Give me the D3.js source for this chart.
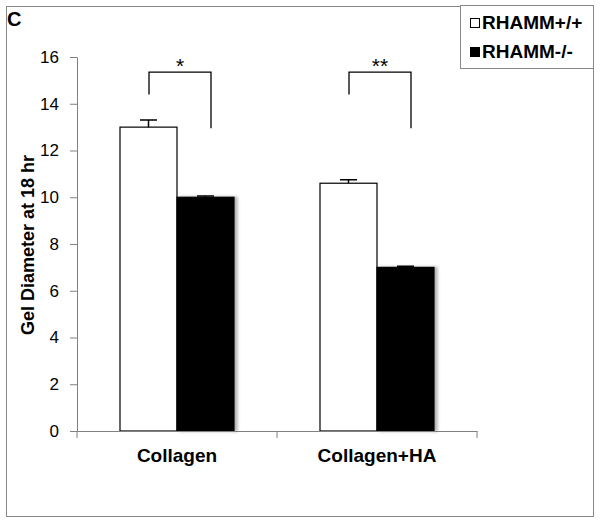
<!DOCTYPE html>
<html>
<head>
<meta charset="utf-8">
<script src="https://cdn.jsdelivr.net/npm/d3@7"></script>
<style>
  body { margin: 0; background: #fff; }
  svg { font-family: "Liberation Sans", Arial, sans-serif; }
</style>
</head>
<body>
<svg width="601" height="525"></svg>
<script>
// data
const categories = ["Collagen", "Collagen+HA"];
const groups = ["RHAMM+/+", "RHAMM-/-"];
const wildType = [13.0, 10.6];
const knockOut = [10.0, 7.0];
const wildErr = [0.3, 0.15];
const knockErr = [0.05, 0.05];
const yTicks = [0, 2, 4, 6, 8, 10, 12, 14, 16];
const signif = ["*", "**"];

const svg = d3.select("svg");
const margin = { left: 77, top: 57, right: 124, bottom: 94 };
const width = 601 - margin.left - margin.right;
const height = 525 - margin.top - margin.bottom;
const font = "Liberation Sans, Arial, sans-serif";

// outer frame
svg.append("rect")
  .attr("x", 6.5).attr("y", 6.5)
  .attr("width", 587).attr("height", 510)
  .attr("fill", "none").attr("stroke", "#888").attr("stroke-width", 1);

svg.append("text")
  .attr("x", 7).attr("y", 26)
  .attr("font-weight", "bold").attr("font-size", 20)
  .text("C");

const g = svg.append("g").attr("transform", `translate(${margin.left},${margin.top})`);

const x = d3.scaleBand().domain(categories).range([0, width]);
const xSub = d3.scaleBand().domain(groups).range([43, 157]);
const y = d3.scaleLinear().domain([0, 16]).range([height, 0]);

// y axis
const yAxis = g.append("g")
  .call(d3.axisLeft(y).tickValues(yTicks).tickSize(7).tickSizeOuter(0));
yAxis.select(".domain").attr("stroke", "#808080");
yAxis.selectAll(".tick line").attr("stroke", "#808080");
yAxis.selectAll(".tick text")
  .attr("font-size", 17).attr("fill", "#000").attr("x", -18)
  .style("font-family", font);

svg.append("text")
  .attr("transform", `translate(34,${margin.top + height / 2 + 1}) rotate(-90)`)
  .attr("text-anchor", "middle")
  .attr("font-weight", "bold").attr("font-size", 18)
  .text("Gel Diameter at 18 hr");

// bars
const rows = categories.map((c, i) => ({
  cat: c,
  vals: [
    { grp: groups[0], v: wildType[i], e: wildErr[i] },
    { grp: groups[1], v: knockOut[i], e: knockErr[i] }
  ]
}));

const defs = svg.append("defs");
const filt = defs.append("filter").attr("id", "shadow").attr("x", "-10%").attr("width", "130%");
filt.append("feDropShadow").attr("dx", 3).attr("dy", 0).attr("stdDeviation", 1.5)
  .attr("flood-color", "#000").attr("flood-opacity", 0.3);

const cg = g.selectAll(".cat").data(rows).enter().append("g")
  .attr("transform", d => `translate(${x(d.cat)},0)`);

cg.selectAll("rect").data(d => d.vals).enter().append("rect")
  .attr("x", d => xSub(d.grp))
  .attr("y", d => y(d.v))
  .attr("width", xSub.bandwidth())
  .attr("height", d => y(0) - y(d.v))
  .attr("fill", (d, i) => i === 0 ? "#fff" : "#000")
  .attr("stroke", "#000").attr("stroke-width", 1.2)
  .attr("filter", (d, i) => i === 1 ? "url(#shadow)" : null);

// error bars
cg.selectAll(".err").data(d => d.vals).enter().append("path")
  .attr("d", d => {
    const cx = xSub(d.grp) + xSub.bandwidth() / 2;
    return `M${cx},${y(d.v)}V${y(d.v + d.e)}M${cx - 8.5},${y(d.v + d.e)}H${cx + 8.5}`;
  })
  .attr("stroke", "#000").attr("stroke-width", 1.5).attr("fill", "none");

// significance brackets
cg.append("path")
  .attr("d", () => {
    const x1 = xSub(groups[0]) + 29, x2 = xSub(groups[1]) + 34;
    return `M${x1},${y(14.4)}V${y(15.35)}H${x2}V${y(12.95)}`;
  })
  .attr("stroke", "#000").attr("stroke-width", 1.3).attr("fill", "none");

cg.append("text")
  .attr("x", () => (xSub(groups[0]) + 29 + xSub(groups[1]) + 34) / 2)
  .attr("y", y(15.35) + 1)
  .attr("text-anchor", "middle").attr("font-size", 21)
  .text((d, i) => signif[i]);

// x axis
const xAxis = g.append("g").attr("transform", `translate(0,${height})`)
  .call(d3.axisBottom(x).tickSize(0).tickSizeOuter(0));
xAxis.select(".domain").attr("stroke", "#808080");
xAxis.selectAll(".tick line").remove();
xAxis.selectAll(".tick text")
  .attr("font-size", 19).attr("font-weight", "bold").attr("fill", "#000")
  .attr("y", 31).attr("dy", 0)
  .style("font-family", font);
// boundary ticks between categories
xAxis.selectAll(".bnd").data(d3.range(categories.length + 1)).enter().append("line")
  .attr("x1", i => i * x.step()).attr("x2", i => i * x.step())
  .attr("y1", 0).attr("y2", 7).attr("stroke", "#808080");

// legend
const lg = svg.append("g").attr("transform", "translate(460,5)");
lg.append("rect").attr("x", 0.5).attr("y", 0.5).attr("width", 133).attr("height", 63)
  .attr("fill", "#fff").attr("stroke", "#888");
groups.forEach((grp, i) => {
  lg.append("rect").attr("x", 10.5).attr("y", 13.5 + i * 29).attr("width", 9).attr("height", 9)
    .attr("fill", i === 0 ? "#fff" : "#000").attr("stroke", "#000");
  lg.append("text").attr("x", 22).attr("y", 24 + i * 29)
    .attr("font-weight", "bold").attr("font-size", 19)
    .text(grp);
});
</script>
</body>
</html>
